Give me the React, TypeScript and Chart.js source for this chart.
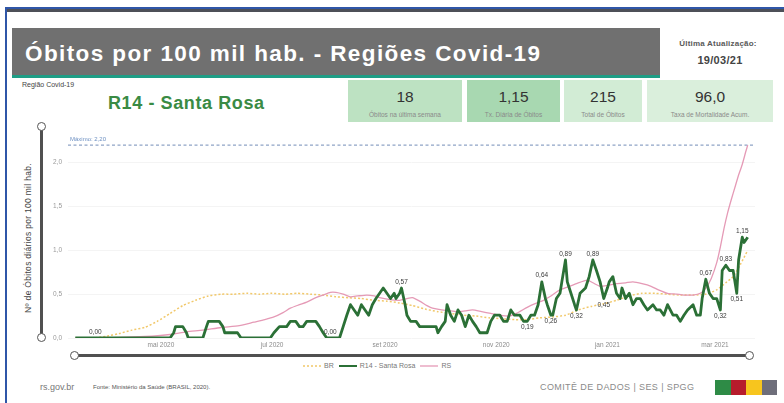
import React, { useEffect, useRef } from "react";
import { Chart, registerables } from "chart.js";

Chart.register(...registerables);

// Day index counted from 2020-03-15
const greenDays = [0, 11, 52, 54, 55, 59, 61, 62, 70, 72, 73, 79, 81, 82, 89, 91, 107, 109, 112, 116, 118, 121, 123, 125, 127, 132, 134, 136, 138, 140, 145, 147, 149, 151, 153, 155, 157, 159, 161, 163, 165, 167, 169, 171, 173, 175, 176, 178, 179, 181, 182, 184, 187, 189, 198, 199, 201, 203, 204, 206, 208, 210, 212, 214, 216, 218, 220, 222, 226, 228, 230, 233, 235, 237, 239, 241, 244, 246, 248, 250, 252, 254, 256, 258, 259, 261, 262, 264, 266, 267, 269, 270, 272, 274, 275, 277, 280, 282, 284, 286, 288, 290, 292, 293, 295, 297, 299, 300, 302, 304, 306, 308, 310, 312, 314, 317, 319, 321, 323, 325, 328, 330, 332, 334, 336, 339, 341, 343, 344, 346, 348, 350, 352, 354, 355, 357, 359, 361, 363, 364, 366, 367, 369];
const greenValues = [0, 0, 0, 0.06, 0.13, 0.13, 0.06, 0, 0, 0.13, 0.19, 0.19, 0.13, 0.06, 0.06, 0, 0, 0.06, 0.13, 0.13, 0.19, 0.19, 0.13, 0.13, 0.19, 0.19, 0.13, 0.06, 0, 0, 0, 0.13, 0.26, 0.38, 0.32, 0.26, 0.38, 0.32, 0.26, 0.38, 0.45, 0.51, 0.57, 0.51, 0.45, 0.51, 0.45, 0.51, 0.57, 0.38, 0.26, 0.19, 0.19, 0.13, 0.13, 0.06, 0.13, 0.19, 0.38, 0.26, 0.19, 0.32, 0.26, 0.13, 0.26, 0.19, 0.13, 0.06, 0.06, 0.19, 0.26, 0.26, 0.19, 0.19, 0.32, 0.26, 0.26, 0.19, 0.19, 0.26, 0.26, 0.38, 0.64, 0.45, 0.38, 0.26, 0.26, 0.45, 0.51, 0.64, 0.89, 0.64, 0.51, 0.38, 0.32, 0.51, 0.57, 0.70, 0.89, 0.77, 0.64, 0.45, 0.57, 0.64, 0.70, 0.51, 0.45, 0.57, 0.45, 0.51, 0.38, 0.45, 0.45, 0.38, 0.32, 0.38, 0.32, 0.32, 0.26, 0.38, 0.26, 0.26, 0.19, 0.26, 0.32, 0.38, 0.26, 0.26, 0.45, 0.67, 0.51, 0.45, 0.45, 0.32, 0.77, 0.83, 0.77, 0.77, 0.51, 0.89, 1.15, 1.09, 1.15];

const brDays = [0, 10, 17, 24, 31, 38, 45, 52, 59, 66, 73, 80, 87, 94, 101, 108, 115, 122, 129, 136, 143, 150, 157, 164, 171, 178, 185, 192, 199, 206, 213, 220, 227, 234, 241, 248, 255, 262, 269, 276, 283, 290, 297, 304, 311, 318, 325, 332, 339, 346, 352, 357, 361, 365, 369];
const brValues = [0, 0, 0.02, 0.05, 0.09, 0.12, 0.19, 0.28, 0.37, 0.43, 0.48, 0.5, 0.5, 0.51, 0.5, 0.51, 0.5, 0.51, 0.5, 0.49, 0.47, 0.46, 0.45, 0.43, 0.42, 0.4, 0.37, 0.33, 0.3, 0.28, 0.26, 0.25, 0.23, 0.22, 0.21, 0.21, 0.23, 0.24, 0.26, 0.32, 0.36, 0.39, 0.43, 0.48, 0.51, 0.51, 0.5, 0.49, 0.49, 0.5, 0.55, 0.63, 0.7, 0.84, 1.0];

const rsDays = [0, 14, 28, 42, 52, 61, 70, 80, 90, 98, 104, 109, 114, 118, 123, 127, 132, 136, 140, 143, 147, 151, 155, 160, 164, 167, 172, 178, 182, 185, 189, 193, 196, 201, 206, 210, 214, 218, 223, 228, 233, 238, 242, 248, 252, 257, 261, 266, 270, 275, 281, 284, 288, 292, 297, 302, 306, 311, 316, 320, 325, 330, 334, 339, 343, 346, 349, 352, 354, 356, 358, 360, 362, 364, 366, 368, 369];
const rsValues = [0, 0, 0.01, 0.02, 0.04, 0.07, 0.09, 0.12, 0.14, 0.18, 0.21, 0.24, 0.29, 0.34, 0.38, 0.41, 0.46, 0.49, 0.52, 0.52, 0.5, 0.47, 0.48, 0.49, 0.48, 0.46, 0.44, 0.43, 0.45, 0.46, 0.42, 0.37, 0.34, 0.32, 0.31, 0.3, 0.31, 0.32, 0.3, 0.28, 0.26, 0.25, 0.28, 0.35, 0.39, 0.43, 0.48, 0.55, 0.58, 0.62, 0.66, 0.63, 0.59, 0.6, 0.62, 0.63, 0.64, 0.62, 0.59, 0.55, 0.51, 0.5, 0.49, 0.49, 0.51, 0.57, 0.68, 0.86, 1.04, 1.25, 1.43, 1.58, 1.72, 1.86, 1.98, 2.13, 2.2];

const monthTickDays = [47, 108, 170, 231, 292, 351];
const monthTickLabels = ["mai 2020", "jul 2020", "set 2020", "nov 2020", "jan 2021", "mar 2021"];
const yTickValues = [0, 0.5, 1, 1.5, 2];
const maxValue = 2.2;

const labelDays = [11, 140, 179, 248, 256, 261, 269, 275, 284, 290, 346, 354, 357, 363, 366];
const labelBelow = [false, false, false, true, false, true, false, true, false, true, false, true, false, true, false];

const kpiValues = ["18", "1,15", "215", "96,0"];
const kpiCaptions = ["Óbitos na última semana", "Tx. Diária de Óbitos", "Total de Óbitos", "Taxa de Mortalidade Acum."];

const fmt = (v: number, d = 2) => v.toFixed(d).replace(".", ",");
const FONT = "'Liberation Sans', Arial, sans-serif";

const overlayPlugin = {
  id: "overlay",
  beforeDatasetsDraw(chart: any) {
    const { ctx, chartArea, scales } = chart;
    const yy = scales.y.getPixelForValue(maxValue);
    ctx.save();
    ctx.strokeStyle = "#8fa4c6";
    ctx.lineWidth = 1.3;
    ctx.setLineDash([3, 2.5]);
    ctx.beginPath();
    ctx.moveTo(chartArea.left, yy);
    ctx.lineTo(chartArea.right, yy);
    ctx.stroke();
    ctx.setLineDash([]);
    ctx.fillStyle = "#6d90c2";
    ctx.font = "6px " + FONT;
    ctx.textBaseline = "bottom";
    ctx.textAlign = "left";
    ctx.fillText("Máximo: " + fmt(maxValue), chartArea.left + 2, yy - 3);
    ctx.restore();
  },
  afterDatasetsDraw(chart: any) {
    const { ctx, scales } = chart;
    ctx.save();
    ctx.fillStyle = "#3a3a3a";
    ctx.font = "6.5px " + FONT;
    ctx.textAlign = "center";
    labelDays.forEach((d, i) => {
      const idx = greenDays.indexOf(d);
      if (idx < 0) return;
      const v = greenValues[idx];
      const px = scales.x.getPixelForValue(d);
      const py = scales.y.getPixelForValue(v);
      if (labelBelow[i]) {
        ctx.textBaseline = "top";
        ctx.fillText(fmt(v), px, py + 3);
      } else {
        ctx.textBaseline = "bottom";
        ctx.fillText(fmt(v), px, py - 3);
      }
    });
    ctx.restore();
  },
};

function ChartBox() {
  const ref = useRef<HTMLCanvasElement | null>(null);
  useEffect(() => {
    if (!ref.current) return;
    const toPts = (xs: number[], ys: number[]) => xs.map((x, i) => ({ x, y: ys[i] }));
    const chart = new Chart(ref.current, {
      type: "line",
      data: {
        datasets: [
          {
            label: "R14 - Santa Rosa",
            data: toPts(greenDays, greenValues),
            borderColor: "#2b7036",
            borderWidth: 2.8,
            pointRadius: 0,
            tension: 0,
            borderJoinStyle: "round",
            order: 0,
          },
          {
            label: "RS",
            data: toPts(rsDays, rsValues),
            borderColor: "#e59ab6",
            borderWidth: 1.3,
            pointRadius: 0,
            tension: 0.2,
            order: 1,
          },
          {
            label: "BR",
            data: toPts(brDays, brValues),
            borderColor: "#f1c86a",
            borderWidth: 1.5,
            borderDash: [2, 2],
            pointRadius: 0,
            tension: 0.2,
            order: 2,
          },
        ],
      },
      options: {
        animation: false,
        responsive: false,
        devicePixelRatio: 1,
        layout: { padding: { left: 18, right: 10, top: 12, bottom: 0 } },
        plugins: { legend: { display: false }, tooltip: { enabled: false } },
        scales: {
          x: {
            type: "linear",
            min: -4,
            max: 373,
            grid: { display: false, drawTicks: false },
            border: { display: false },
            afterFit: (s: any) => {
              s.height = 12;
            },
            afterBuildTicks: (s: any) => {
              s.ticks = monthTickDays.map((v) => ({ value: v }));
            },
            ticks: {
              autoSkip: false,
              maxRotation: 0,
              padding: 3,
              color: "#8c8c8c",
              font: { size: 6.5, family: FONT },
              callback: (v: any) => {
                const i = monthTickDays.indexOf(Number(v));
                return i >= 0 ? monthTickLabels[i] : "";
              },
            },
          },
          y: {
            min: 0,
            max: 2.35,
            grid: { color: "#f4f4f4", drawTicks: false },
            border: { display: false },
            afterFit: (s: any) => {
              s.width = 30;
            },
            afterBuildTicks: (s: any) => {
              s.ticks = yTickValues.map((v) => ({ value: v }));
            },
            ticks: {
              padding: 6,
              color: "#9a9a9a",
              font: { size: 6.5, family: FONT },
              callback: (v: any) => fmt(Number(v), 1),
            },
          },
        },
      },
      plugins: [overlayPlugin],
    } as any);
    return () => chart.destroy();
  }, []);
  return (
    <canvas
      ref={ref}
      width={745}
      height={230}
      style={{ position: "absolute", left: 20, top: 120, width: 745, height: 230 }}
    />
  );
}

const abs = (s: React.CSSProperties): React.CSSProperties => ({ position: "absolute", ...s });

function Knob({ x, y }: { x: number; y: number }) {
  return (
    <div
      style={abs({
        left: x - 5,
        top: y - 5,
        width: 7,
        height: 7,
        borderRadius: "50%",
        border: "1.5px solid #555",
        background: "#fff",
      })}
    />
  );
}

export default function App() {
  const boxes = [
    { left: 348, width: 114, bg: "#bde2c2" },
    { left: 467, width: 93, bg: "#a8d8b1" },
    { left: 564, width: 78, bg: "#d2ecd5" },
    { left: 647, width: 126, bg: "#daefdc" },
  ];
  return (
    <div
      style={abs({
        left: 0,
        top: 0,
        width: 784,
        height: 403,
        background: "#fff",
        overflow: "hidden",
        fontFamily: FONT,
      })}
    >
      <div style={abs({ left: 5, top: 7, width: 779, height: 2, background: "#2f56a8" })} />
      <div style={abs({ left: 5, top: 9, width: 779, height: 3, background: "#4d5058" })} />
      <div style={abs({ left: 5, top: 7, width: 2, height: 396, background: "#2f56a8" })} />

      <div style={abs({ left: 12, top: 28, width: 648, height: 47, background: "#707070" })} />
      <div style={abs({ left: 12, top: 75, width: 648, height: 3, background: "#1f9e86" })} />
      <div
        style={abs({
          left: 25,
          top: 43,
          fontSize: 22.5,
          lineHeight: "22px",
          fontWeight: 700,
          color: "#fff",
          letterSpacing: 1.4,
          whiteSpace: "nowrap",
        })}
      >
        Óbitos por 100 mil hab. - Regiões Covid-19
      </div>

      <div
        style={abs({
          left: 660,
          width: 116,
          top: 39,
          textAlign: "center",
          fontSize: 8,
          fontWeight: 700,
          color: "#5a5a5a",
          whiteSpace: "nowrap",
          letterSpacing: 0.2,
        })}
      >
        Última Atualização:
      </div>
      <div
        style={abs({
          left: 660,
          width: 120,
          top: 54,
          textAlign: "center",
          fontSize: 11,
          fontWeight: 700,
          color: "#444",
          letterSpacing: 0.3,
        })}
      >
        19/03/21
      </div>

      <div style={abs({ left: 22, top: 81, fontSize: 7, color: "#444", whiteSpace: "nowrap" })}>
        Região Covid-19
      </div>
      <div
        style={abs({
          left: 108,
          top: 94,
          fontSize: 18,
          lineHeight: "18px",
          fontWeight: 700,
          color: "#3a8b44",
          letterSpacing: 0.6,
          whiteSpace: "nowrap",
        })}
      >
        R14 - Santa Rosa
      </div>

      {boxes.map((b, i) => (
        <div key={i} style={abs({ left: b.left, top: 80, width: b.width, height: 42, background: b.bg })}>
          <div
            style={abs({
              left: 0,
              width: b.width,
              top: 9,
              textAlign: "center",
              fontSize: 15.5,
              lineHeight: "16px",
              color: "#333",
            })}
          >
            {kpiValues[i]}
          </div>
          <div
            style={abs({
              left: 0,
              width: b.width,
              top: 31,
              textAlign: "center",
              fontSize: 6.5,
              color: "#8a8a8a",
              whiteSpace: "nowrap",
            })}
          >
            {kpiCaptions[i]}
          </div>
        </div>
      ))}

      <div
        style={abs({
          left: 28,
          top: 238,
          transform: "translate(-50%, -50%) rotate(-90deg)",
          fontSize: 8.5,
          color: "#444",
          whiteSpace: "nowrap",
          letterSpacing: 0.3,
        })}
      >
        Nº de Óbitos diários por 100 mil hab.
      </div>

      <div style={abs({ left: 40, top: 127, width: 3, height: 211, background: "#505050" })} />
      <Knob x={41.5} y={127} />
      <Knob x={41.5} y={338} />

      <ChartBox />

      <div style={abs({ left: 75, top: 354, width: 675, height: 3, background: "#505050" })} />
      <Knob x={75} y={355.5} />
      <Knob x={750} y={355.5} />

      <div
        style={abs({
          left: 303,
          top: 362,
          display: "flex",
          alignItems: "center",
          fontSize: 7,
          color: "#777",
          whiteSpace: "nowrap",
        })}
      >
        <svg width={18} height={6}>
          <line x1={0} y1={3} x2={18} y2={3} stroke="#f1c86a" strokeWidth={1.5} strokeDasharray="2 2" />
        </svg>
        <span style={{ margin: "0 5px 0 3px" }}>BR</span>
        <svg width={18} height={6}>
          <line x1={0} y1={3} x2={18} y2={3} stroke="#2b7036" strokeWidth={2} />
        </svg>
        <span style={{ margin: "0 5px 0 3px" }}>R14 - Santa Rosa</span>
        <svg width={18} height={6}>
          <line x1={0} y1={3} x2={18} y2={3} stroke="#e59ab6" strokeWidth={1.3} />
        </svg>
        <span style={{ margin: "0 0 0 3px" }}>RS</span>
      </div>

      <div style={abs({ left: 40, top: 382, fontSize: 9, color: "#777", whiteSpace: "nowrap" })}>rs.gov.br</div>
      <div style={abs({ left: 93, top: 384, fontSize: 6, color: "#555", whiteSpace: "nowrap" })}>
        Fonte: Ministério da Saúde (BRASIL, 2020).
      </div>
      <div
        style={abs({ left: 540, top: 382, fontSize: 9, color: "#8a8a8a", whiteSpace: "nowrap", letterSpacing: 0.4 })}
      >
        COMITÊ DE DADOS | SES | SPGG
      </div>
      {["#2e8b46", "#b71c2c", "#f7c51e", "#6e6e7a"].map((c, i) => (
        <div key={c} style={abs({ left: 715 + i * 15.5, top: 380, width: 15.5, height: 15, background: c })} />
      ))}
    </div>
  );
}
